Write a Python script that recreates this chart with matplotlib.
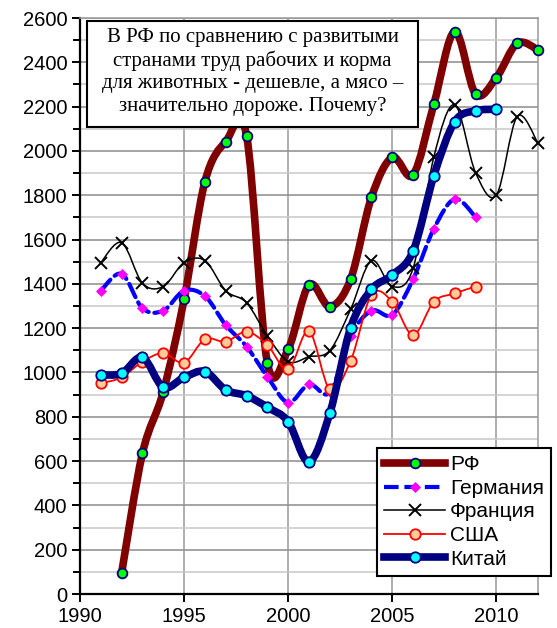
import numpy as np
import matplotlib
matplotlib.use("Agg")
import matplotlib.pyplot as plt
from matplotlib.path import Path
from matplotlib.patches import PathPatch, Rectangle
from matplotlib.lines import Line2D
from matplotlib.ticker import MultipleLocator

# --- data ---
years_rf = list(range(1992, 2013))
rf = [95, 635, 913, 1330, 1861, 2042, 2069, 1044, 1105, 1395, 1297,
      1421, 1791, 1971, 1892, 2212, 2539, 2257, 2331, 2486, 2456]

years_de = list(range(1991, 2010))
germany = [1369, 1445, 1290, 1279, 1369, 1345, 1214, 1117, 981, 864,
           947, 910, 1165, 1279, 1260, 1421, 1649, 1783, 1702]

years_fr = list(range(1991, 2013))
france = [1496, 1586, 1403, 1388, 1496, 1505, 1369, 1315, 1165, 1049, 1071,
          1099, 1285, 1505, 1388, 1470, 1974, 2208, 1902, 1801, 2155, 2035]

years_us = list(range(1991, 2010))
usa = [951, 978, 1049, 1087, 1044, 1150, 1139, 1184, 1124, 1014,
       1187, 924, 1052, 1350, 1320, 1169, 1320, 1357, 1388]

years_cn = list(range(1991, 2011))
china = [989, 996, 1068, 933, 978, 1004, 921, 895, 843, 778,
         597, 816, 1202, 1375, 1440, 1548, 1889, 2132, 2181, 2188]

labels = ["РФ", "Германия", "Франция", "США", "Китай"]

note = ("В РФ по сравнению с развитыми\n"
        "странами труд рабочих и корма\n"
        "для животных - дешевле, а мясо –\n"
        "значительно дороже. Почему?")


def smooth_path(xs, ys):
    """Excel-like smoothed line as cubic Bezier path through the points."""
    p = np.column_stack([xs, ys]).astype(float)
    n = len(p)
    verts = [p[0]]
    codes = [Path.MOVETO]
    for i in range(n - 1):
        p0 = p[i - 1] if i > 0 else p[i]
        p3 = p[i + 2] if i + 2 < n else p[i + 1]
        c1 = p[i] + (p[i + 1] - p0) / 6
        c2 = p[i + 1] - (p3 - p[i]) / 6
        verts += [c1, c2, p[i + 1]]
        codes += [Path.CURVE4] * 3
    return Path(verts, codes)


W, H = 557, 628
fig = plt.figure(figsize=(W / 100, H / 100), dpi=100, facecolor="white")
ax = fig.add_axes([80 / W, 1 - 594 / H, 458 / W, 576 / H])

ax.set_xlim(1990, 2012)
ax.set_ylim(0, 2600)
ax.xaxis.set_major_locator(MultipleLocator(5))
ax.yaxis.set_major_locator(MultipleLocator(200))
ax.yaxis.set_minor_locator(MultipleLocator(100))

ax.grid(which="major", axis="y", color="#8c8c8c", lw=1.1, zorder=0)
ax.grid(which="minor", axis="y", color="#c8c8c8", lw=1.1, zorder=0)
ax.grid(which="major", axis="x", color="#999999", lw=1.1, zorder=0)
ax.set_axisbelow(True)

for s in ("left", "bottom"):
    ax.spines[s].set_color("black")
    ax.spines[s].set_linewidth(1.6)
for s in ("top", "right"):
    ax.spines[s].set_color("#999999")
    ax.spines[s].set_linewidth(1.1)

ax.tick_params(which="major", direction="out", length=6, width=1.4,
               labelsize=14.5, pad=3)
ax.tick_params(which="minor", direction="out", length=5, width=1.4)
ax.tick_params(axis="x", which="minor", length=0)
for lab in ax.get_xticklabels() + ax.get_yticklabels():
    lab.set_family("Liberation Sans")

styles = [
    dict(x=years_rf, y=rf, color="#800000", lw=5.5, ls="-",
         marker="o", ms=7, mfc="#00ff00", mec="#000080", mew=1.3),
    dict(x=years_de, y=germany, color="#0000ff", lw=3, ls=(0, (3.5, 1.4)),
         marker="D", ms=5, mfc="#ff00ff", mec="#ff00ff", mew=0.5),
    dict(x=years_fr, y=france, color="black", lw=1.1, ls="-",
         marker="x", ms=9, mfc="black", mec="black", mew=1.4),
    dict(x=years_us, y=usa, color="#ff0000", lw=1.3, ls="-",
         marker="o", ms=7.5, mfc="#ffcc99", mec="#ff0000", mew=1.3),
    dict(x=years_cn, y=china, color="#000080", lw=5.5, ls="-",
         marker="o", ms=7.5, mfc="#00ffff", mec="#000080", mew=1.3),
]

handles = []
for k, st in enumerate(styles):
    z = 3 + k
    patch = PathPatch(smooth_path(st["x"], st["y"]), fill=False,
                      edgecolor=st["color"], lw=st["lw"], ls=st["ls"],
                      capstyle="round", joinstyle="round", zorder=z)
    ax.add_patch(patch)
    ax.plot(st["x"], st["y"], ls="none", marker=st["marker"], ms=st["ms"],
            mfc=st["mfc"], mec=st["mec"], mew=st["mew"], zorder=z + 0.5,
            clip_on=False)
    handles.append(Line2D([], [], color=st["color"], lw=st["lw"], ls=st["ls"],
                          marker=st["marker"], ms=st["ms"], mfc=st["mfc"],
                          mec=st["mec"], mew=st["mew"]))

leg = ax.legend(handles, labels, loc="upper left",
                bbox_to_anchor=(377 / W, 1 - 448 / H),
                bbox_transform=fig.transFigure, borderaxespad=0,
                fancybox=False, framealpha=1, edgecolor="black",
                handlelength=2.9, handletextpad=0.25, labelspacing=0.22,
                borderpad=0.35, numpoints=1,
                prop={"family": "Liberation Sans", "size": 15})
leg.get_frame().set_linewidth(1.5)
leg.set_zorder(20)

# note box in the upper left corner
fig.patches.append(Rectangle((87 / W, 1 - 127 / H), 331 / W, 106 / H,
                             transform=fig.transFigure, facecolor="white",
                             edgecolor="black", lw=1.5, zorder=30))
fig.text(252.5 / W, 1 - 72 / H, note, ha="center", va="center",
         family="Liberation Serif", fontsize=15, linespacing=1.22,
         zorder=31)

fig.savefig("out.png", dpi=100, facecolor="white")
